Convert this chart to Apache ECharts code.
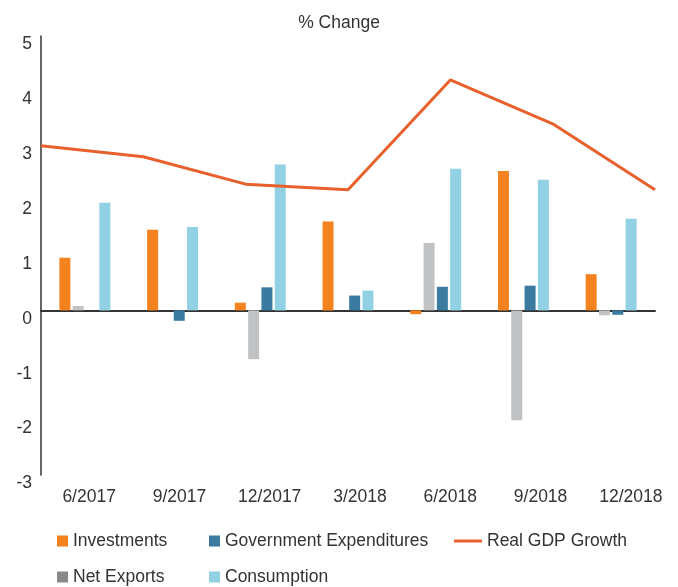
<!DOCTYPE html>
<html>
<head>
<meta charset="utf-8">
<script src="https://cdn.jsdelivr.net/npm/echarts@6/dist/echarts.min.js"></script>
<style>
html,body{margin:0;padding:0;background:#fff;}
#chart{width:678px;height:587px;}
</style>
</head>
<body>
<div id="chart"></div>
<script>
var categories = ['6/2017', '9/2017', '12/2017', '3/2018', '6/2018', '9/2018', '12/2018'];
var investments = [0.96, 1.47, 0.14, 1.62, -0.07, 2.54, 0.66];
var netExports = [0.08, 0, -0.89, 0, 1.23, -2.0, -0.09];
var govExpenditures = [0, -0.19, 0.42, 0.27, 0.43, 0.45, -0.08];
var consumption = [1.96, 1.52, 2.66, 0.36, 2.58, 2.38, 1.67];
var realGDP = [3.0, 2.8, 2.3, 2.2, 4.2, 3.4, 2.2];
var yTicks = [-3, -2, -1, 0, 1, 2, 3, 4, 5];

var F = "'Liberation Sans', Arial, sans-serif";
var FS = 17.5;
var TXT = '#333333';
var C = {inv: '#F4831F', net: '#C1C2C4', netLegend: '#87888A', gov: '#3B7BA0', con: '#92D0E3', gdp: '#E8602C'};

function legendAt(name, left, cy, extra) {
  var lg = {
    data: [{name: name, icon: 'rect'}],
    left: left,
    top: cy - 11,
    padding: 0,
    itemWidth: 11,
    itemHeight: 11,
    selectedMode: false,
    textStyle: {fontFamily: F, fontSize: FS, color: TXT, lineHeight: 22}
  };
  if (extra) { for (var k in extra) lg[k] = extra[k]; }
  return lg;
}

var chart = echarts.init(document.getElementById('chart'), null, {renderer: 'canvas'});
chart.setOption({
  animation: false,
  backgroundColor: '#ffffff',
  title: {
    text: '% Change',
    left: 'center',
    top: 6,
    textStyle: {fontFamily: F, fontSize: FS, fontWeight: 'normal', color: TXT, lineHeight: 24}
  },
  legend: [
    legendAt('Investments', 57, 541),
    legendAt('Government Expenditures', 209, 541),
    legendAt('Real GDP Growth', 454, 541, {data: [{name: 'Real GDP Growth', icon: 'rect'}], itemWidth: 28, itemHeight: 3}),
    legendAt('Net Exports', 57, 577, {data: [{name: 'Net Exports', icon: 'rect', itemStyle: {color: C.netLegend}}]}),
    legendAt('Consumption', 209, 577)
  ],
  grid: [
    {left: 41, right: 23, top: 36, bottom: 112, containLabel: false},
    {left: 44, right: 2, top: 36, bottom: 112, containLabel: false}
  ],
  xAxis: [
    {
      type: 'category', gridIndex: 0, data: categories, boundaryGap: true,
      axisLine: {onZero: true, lineStyle: {color: '#333333', width: 2}},
      axisTick: {show: false}, axisLabel: {show: false}, splitLine: {show: false}
    },
    {
      type: 'category', gridIndex: 0, data: categories, boundaryGap: false, show: false
    },
    {
      type: 'category', gridIndex: 1, data: categories, boundaryGap: true, position: 'bottom',
      axisLine: {show: false}, axisTick: {show: false}, splitLine: {show: false},
      axisLabel: {fontFamily: F, fontSize: FS, color: TXT, margin: 12, lineHeight: 21, interval: 0}
    }
  ],
  yAxis: [
    {
      type: 'value', gridIndex: 0, min: yTicks[0], max: yTicks[yTicks.length - 1], interval: 1,
      axisLine: {show: true, lineStyle: {color: '#333333', width: 1.5}},
      axisTick: {show: false}, splitLine: {show: false},
      axisLabel: {fontFamily: F, fontSize: FS, color: TXT, margin: 9, verticalAlign: 'top', lineHeight: 17}
    },
    {
      type: 'value', gridIndex: 1, min: yTicks[0], max: yTicks[yTicks.length - 1], show: false
    }
  ],
  series: [
    {name: 'Investments', type: 'bar', xAxisIndex: 0, yAxisIndex: 0, data: investments, barWidth: 11, barGap: '21%', itemStyle: {color: C.inv}},
    {name: 'Net Exports', type: 'bar', xAxisIndex: 0, yAxisIndex: 0, data: netExports, barWidth: 11, barGap: '21%', itemStyle: {color: C.net}},
    {name: 'Government Expenditures', type: 'bar', xAxisIndex: 0, yAxisIndex: 0, data: govExpenditures, barWidth: 11, barGap: '21%', itemStyle: {color: C.gov}},
    {name: 'Consumption', type: 'bar', xAxisIndex: 0, yAxisIndex: 0, data: consumption, barWidth: 11, barGap: '21%', itemStyle: {color: C.con}},
    {name: 'Real GDP Growth', type: 'line', xAxisIndex: 1, yAxisIndex: 0, data: realGDP, showSymbol: false, symbol: 'none',
     lineStyle: {color: C.gdp, width: 3}, itemStyle: {color: C.gdp}, z: 5}
  ]
});
</script>
</body>
</html>
